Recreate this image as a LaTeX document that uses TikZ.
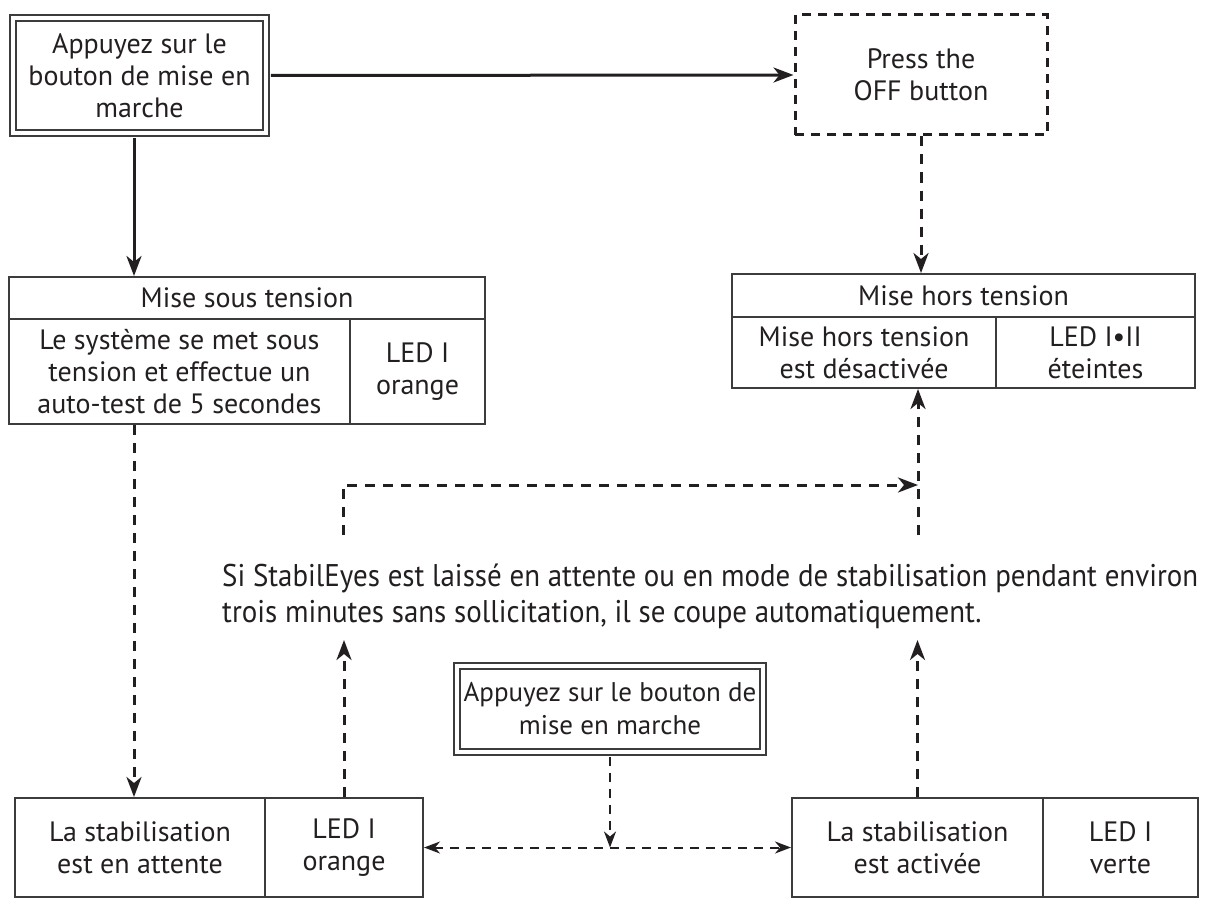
\documentclass[tikz,border=0pt]{standalone}
\usepackage{fontspec}
\setmainfont{PT Sans}
\usetikzlibrary{arrows.meta}
\definecolor{ink}{HTML}{231F20}
\definecolor{edge}{HTML}{3C3C3C}
\begin{document}
\begin{tikzpicture}[x=1pt,y=-1pt,
  every node/.style={font=\fontsize{28}{32}\selectfont, text=ink, align=center, inner sep=0pt},
  box/.style={draw=edge, line width=2pt, rectangle, inner sep=0pt},
  dbox/.style={draw=edge, line width=1.8pt, double=white, double distance=4pt, rectangle, inner sep=0pt},
  dashbox/.style={draw=ink, line width=3pt, dash pattern=on 9pt off 7pt, rectangle, inner sep=0pt},
  solidarrow/.style={draw=ink, line width=3pt, -{Stealth[length=20pt,width=15pt,inset=6pt]}},
  dasharrow/.style={solidarrow, dash pattern=on 10pt off 8pt},
  thinline/.style={draw=ink, line width=2pt, dash pattern=on 9pt off 7pt},
  thintip/.tip={Stealth[length=16pt,width=12pt,inset=5pt]},
]
\useasboundingbox (0,0) rectangle (1206,904);

% top row
\node[dbox, minimum width=253.5pt, minimum height=115.5pt] (start1) at (139.5,75.5)
  {Appuyez sur le\\bouton de mise en\\marche};
\node[dashbox, minimum width=252pt, minimum height=120pt] (off) at (921,75)
  {Press the\\OFF button};

% Mise sous tension
\node[box, minimum width=476pt, minimum height=42pt] (mstH) at (247,298) {Mise sous tension};
\node[box, minimum width=341pt, minimum height=105pt] (mstL) at (179.5,371.5)
  {Le système se met sous\\tension et effectue un\\auto-test de 5 secondes};
\node[box, minimum width=135pt, minimum height=105pt] (mstR) at (417.5,371.5) {LED I\\orange};

% Mise hors tension
\node[box, minimum width=463pt, minimum height=43pt] (mhtH) at (963.5,295.5) {Mise hors tension};
\node[box, minimum width=264pt, minimum height=71pt] (mhtL) at (864,352.5)
  {Mise hors tension\\est désactivée};
\node[box, minimum width=199pt, minimum height=71pt] (mhtR) at (1095.5,352.5) {LED I•II\\éteintes};

% paragraph
\node[anchor=west, align=left] (para) at (222,597) {\resizebox*{976pt}{1.12\totalheight}{%
  \fontsize{28}{32}\selectfont\begin{tabular}{@{}l@{}}Si StabilEyes est laissé en attente ou en mode de stabilisation pendant environ\\
  trois minutes sans sollicitation, il se coupe automatiquement.\end{tabular}}};

% bottom row
\node[box, minimum width=250pt, minimum height=99pt] (blL) at (140,847.5)
  {La stabilisation\\est en attente};
\node[box, minimum width=158pt, minimum height=99pt] (blR) at (344,847.5) {LED I\\orange};
\node[box, minimum width=251pt, minimum height=99pt] (brL) at (917.5,847.5)
  {La stabilisation\\est activée};
\node[box, minimum width=155pt, minimum height=99pt] (brR) at (1120.5,847.5) {LED I\\verte};
\node[dbox, minimum width=306.5pt, minimum height=86.5pt, font=\fontsize{27}{33}\selectfont] (mid) at (610,709)
  {Appuyez sur le bouton de\\mise en marche};

% helper coordinates
\coordinate (xl) at (134,0);
\coordinate (ul) at (343,535);
\coordinate (tl) at (343,485);
\coordinate (ur) at (918,535);
\coordinate (tr) at (918,485);
\coordinate (al) at (0,640);

% connectors
\draw[solidarrow] ([xshift=3.8pt]start1.east) -- (off.west);
\draw[solidarrow] ([yshift=-3.8pt]start1.south -| xl) -- (mstH.north -| xl);
\draw[dasharrow] (off.south) -- (off.south |- mhtH.north);
\draw[dasharrow] (mstL.south -| xl) -- (blL.north -| xl);
\draw[dasharrow] (ul) -- (tl) -- (tr);
\draw[dasharrow] (ur) -- (mhtL.south -| ur);
\draw[dasharrow] (blR.north) -- (blR.north |- al);
\draw[dasharrow] (brL.north) -- (brL.north |- al);
\draw[thinline, -thintip] ([yshift=-3.8pt]mid.south) -- (mid.south |- blR.east);
\draw[thinline, thintip-thintip] (blR.east) -- (brL.west);
\end{tikzpicture}
\end{document}
